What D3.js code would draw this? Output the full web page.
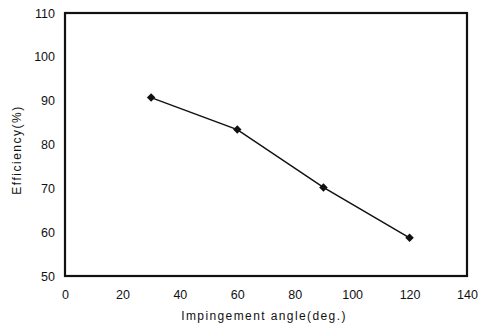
<!DOCTYPE html>
<html>
<head>
<meta charset="utf-8">
<script src="https://cdn.jsdelivr.net/npm/d3@7"></script>
<style>
  body { margin: 0; background: #fff; }
  text { font-family: "Liberation Sans", Arial, sans-serif; fill: #111; }
</style>
</head>
<body>
<svg id="chart" width="482" height="328"></svg>
<script>
// data
const angles = [30, 60, 90, 120]
const efficiency = [90.7, 83.4, 70.2, 58.7]
const xTicks = [0, 20, 40, 60, 80, 100, 120, 140]
const yTicks = [50, 60, 70, 80, 90, 100, 110]

const margin = { left: 65, right: 15, top: 13, bottom: 52 }
const width = 482, height = 328

const svg = d3.select("#chart")

const x = d3.scaleLinear().domain([0, 140]).range([margin.left, width - margin.right])
const y = d3.scaleLinear().domain([50, 110]).range([height - margin.bottom, margin.top])

// frame
svg.append("rect")
  .attr("x", x(0)).attr("y", y(110))
  .attr("width", x(140) - x(0)).attr("height", y(50) - y(110))
  .attr("fill", "none").attr("stroke", "#111").attr("stroke-width", 2.2)

// x axis
const xAxis = d3.axisBottom(x).tickValues(xTicks).tickSize(0).tickPadding(14)
const gx = svg.append("g").attr("transform", "translate(0," + y(50) + ")").call(xAxis)
gx.select(".domain").remove()
gx.selectAll("text").style("font-size", "12.5px")

// y axis
const yAxis = d3.axisLeft(y).tickValues(yTicks).tickSize(0).tickPadding(10)
const gy = svg.append("g").attr("transform", "translate(" + x(0) + ",0)").call(yAxis)
gy.select(".domain").remove()
gy.selectAll("text").style("font-size", "12.5px")

// labels
svg.append("text")
  .attr("x", 264).attr("y", 320)
  .attr("text-anchor", "middle").style("font-size", "12px").style("letter-spacing", "1.4px")
  .text("Impingement angle(deg.)")

svg.append("text")
  .attr("transform", "translate(21,150) rotate(-90)")
  .attr("text-anchor", "middle").style("font-size", "12px").style("letter-spacing", "1.5px")
  .text("Efficiency(%)")

// line + markers
const pts = angles.map((a, i) => [a, efficiency[i]])
svg.append("path")
  .datum(pts)
  .attr("fill", "none").attr("stroke", "#111").attr("stroke-width", 1.5)
  .attr("d", d3.line().x(d => x(d[0])).y(d => y(d[1])))

svg.selectAll(".pt")
  .data(pts)
  .enter().append("path")
  .attr("class", "pt")
  .attr("transform", d => "translate(" + x(d[0]) + "," + y(d[1]) + ") rotate(45)")
  .attr("d", d3.symbol().type(d3.symbolSquare).size(36))
  .attr("fill", "#111")
</script>
</body>
</html>
